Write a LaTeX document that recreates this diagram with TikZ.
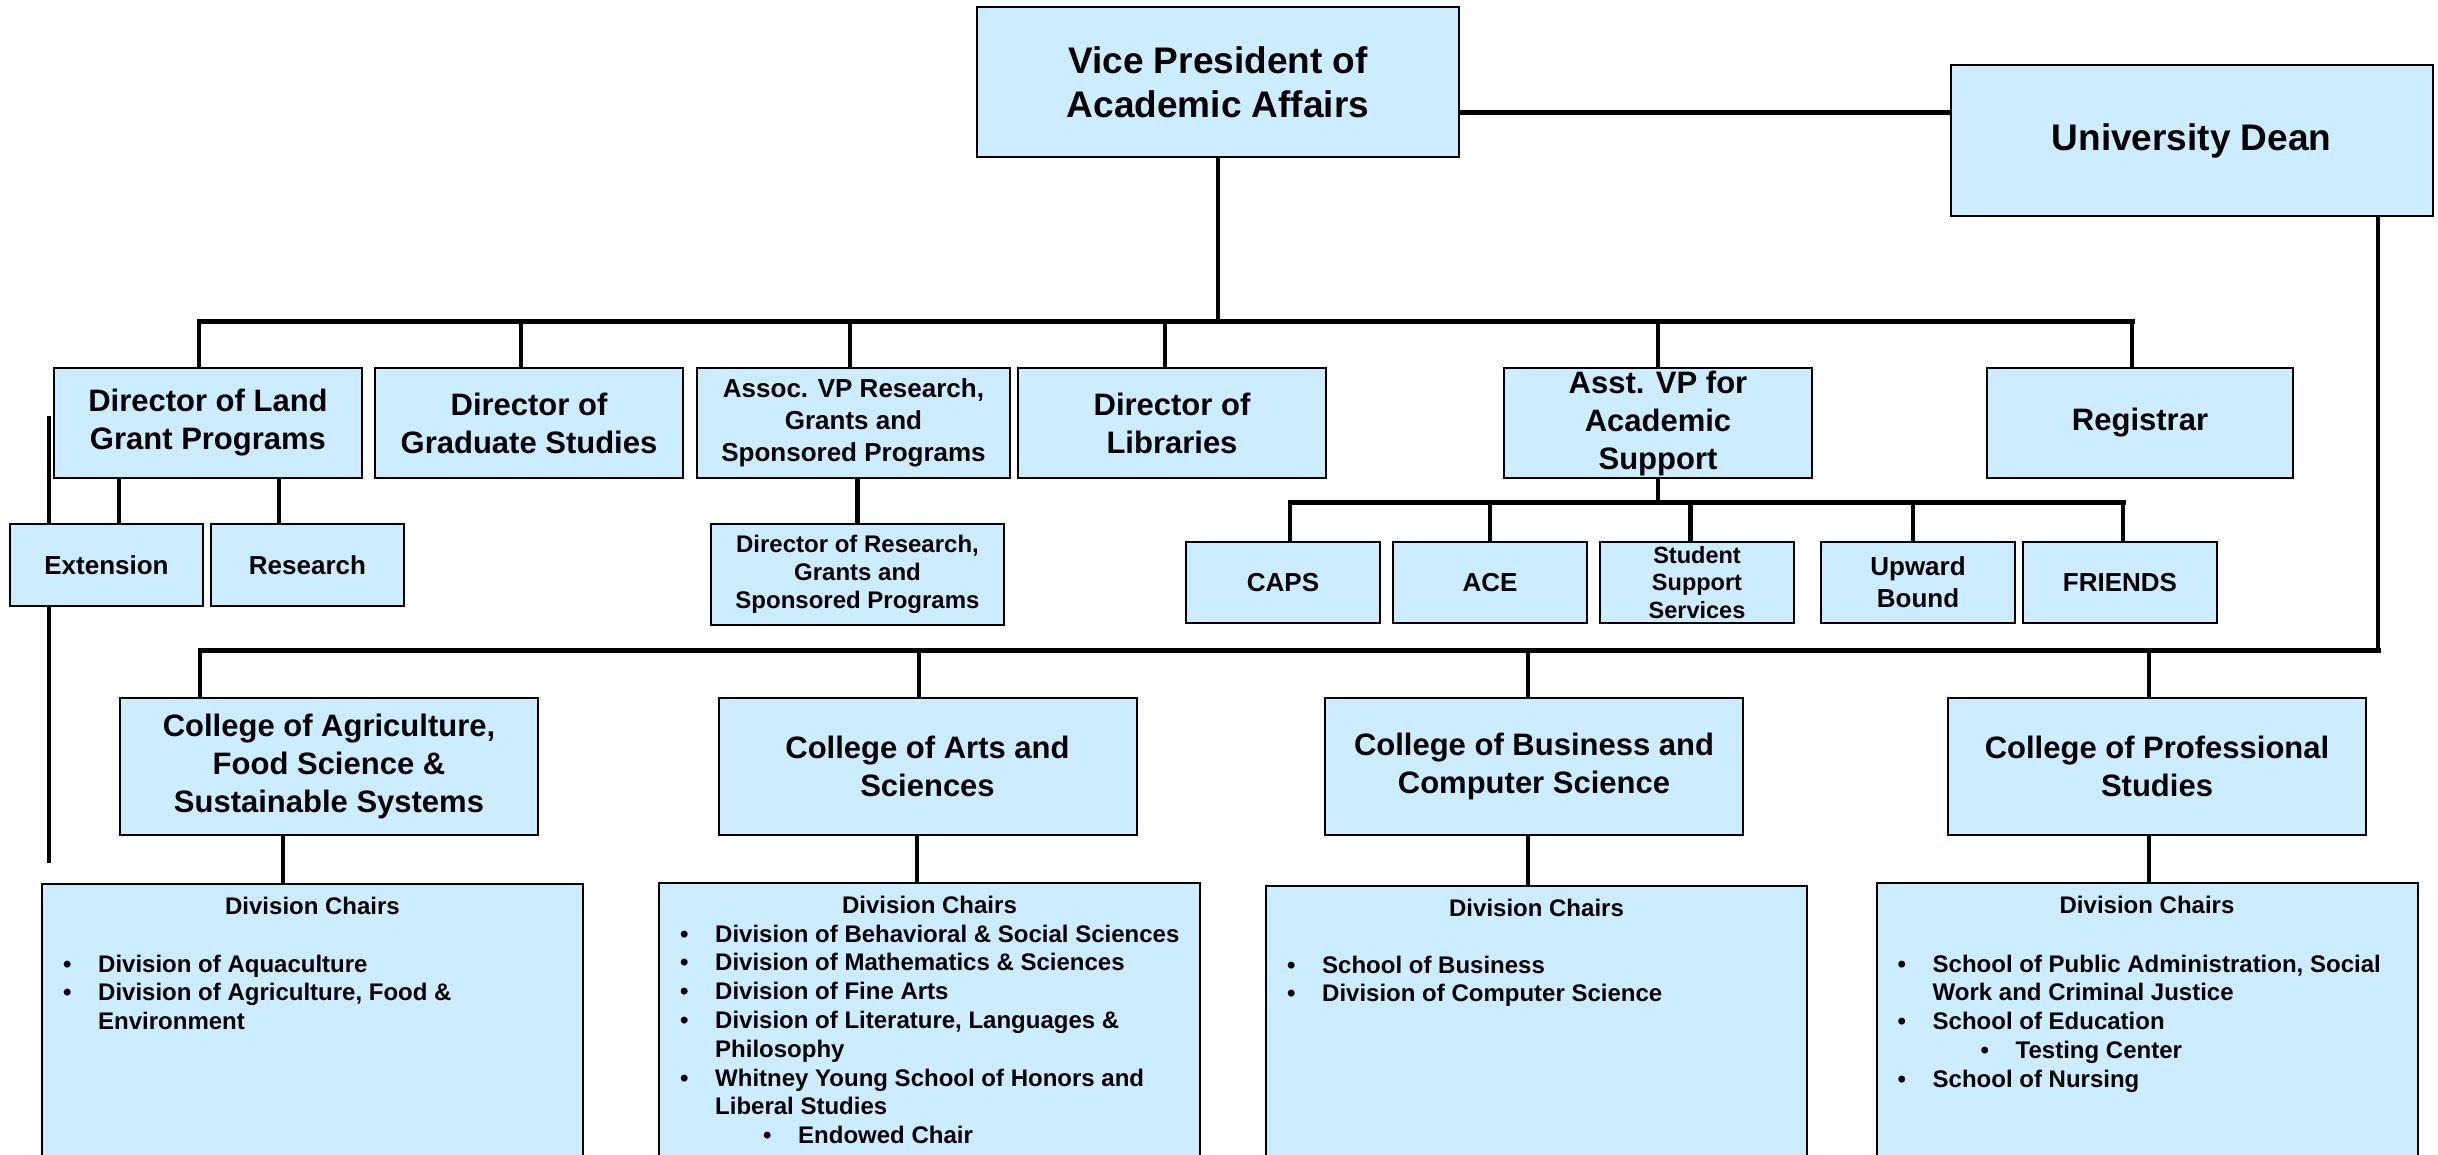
\documentclass[tikz,border=0pt]{standalone}
\usepackage{fontspec}
\setmainfont{Liberation Sans}
\usetikzlibrary{positioning}
\definecolor{boxblue}{HTML}{CCECFF}
\newcommand{\blt}{\makebox[35pt][l]{\textbullet}}
\newcommand{\subblt}{\hspace*{83pt}\blt}
\newcommand{\hang}{\hspace*{35pt}}
\tikzstyle{orgbox} = [draw=black, fill=boxblue, line width=2pt, inner sep=0pt, outer sep=0pt, align=center, font=\bfseries]
\tikzstyle{headbox} = [orgbox, minimum width=482pt, minimum height=150pt, font=\bfseries\fontsize{37}{44}\selectfont]
\tikzstyle{dirbox} = [orgbox, minimum width=308pt, minimum height=110pt, font=\bfseries\fontsize{31}{38}\selectfont]
\tikzstyle{unitbox} = [orgbox, minimum width=194pt, minimum height=82pt, font=\bfseries\fontsize{26}{32}\selectfont]
\tikzstyle{collegebox} = [orgbox, minimum width=418pt, minimum height=137pt, font=\bfseries\fontsize{31}{38}\selectfont]
\tikzstyle{divbox} = [orgbox, minimum width=541pt, minimum height=330pt, anchor=north]
\tikzstyle{divtitle} = [font=\bfseries\fontsize{24}{28.8}\selectfont, anchor=base, inner sep=0pt]
\tikzstyle{divlist} = [font=\bfseries\fontsize{24}{28.8}\selectfont, anchor=base west, inner sep=0pt]
\tikzstyle{link} = [line width=4.5pt]
\tikzstyle{busline} = [line width=5pt, line cap=rect]

\begin{document}
\begin{tikzpicture}[x=1pt, y=-1pt]
	\useasboundingbox (0,0) rectangle (2438,1155);
	\clip (0,0) rectangle (2438,1155);

	\node[headbox] (vpaa) at (1218,82.5) {Vice President of\\Academic Affairs};
	\node[headbox, minimum height=151pt] (dean) at (2191.5,140.5) {University Dean};

	\node[dirbox] (land) at (208,423) {Director of Land\\Grant Programs};
	\node[dirbox, right=13pt of land] (grad) {Director of\\Graduate Studies};
	\node[dirbox, right=14pt of grad, minimum width=313pt, font=\bfseries\fontsize{26}{32}\selectfont] (assoc) {Assoc. VP Research,\\Grants and\\Sponsored Programs};
	\node[dirbox, right=8pt of assoc] (lib) {Director of\\Libraries};
	\node[dirbox] (asstvp) at (1658,423) {Asst. VP for\\Academic\\Support};
	\node[dirbox, minimum width=306pt] (reg) at (2140,423) {Registrar};

	\node[unitbox, minimum width=193pt] (ext) at (106.5,565) {Extension};
	\node[unitbox, minimum width=193pt, right=8pt of ext] (res) {Research};
	\node[orgbox, minimum width=293pt, minimum height=101pt, font=\bfseries\fontsize{24}{28}\selectfont] (dirres) at (857.5,574.5) {Director of Research,\\Grants and\\Sponsored Programs};

	\node[unitbox, minimum height=81pt] (caps) at (1283,582.5) {CAPS};
	\node[unitbox, minimum height=81pt, right=13pt of caps] (ace) {ACE};
	\node[unitbox, minimum height=81pt, right=13pt of ace, font=\bfseries\fontsize{23.5}{27.5}\selectfont] (sss) {Student\\Support\\Services};
	\node[unitbox, minimum height=81pt, right=27pt of sss] (upward) {Upward\\Bound};
	\node[unitbox, minimum height=81pt, right=8pt of upward] (friends) {FRIENDS};

	\node[collegebox] (cag) at (329,766.5) {College of Agriculture,\\Food Science \&\\Sustainable Systems};
	\node[collegebox] (cas) at (927.5,766.5) {College of Arts and\\Sciences};
	\node[collegebox] (cbcs) at (1534,766.5) {College of Business and\\Computer Science};
	\node[collegebox] (cps) at (2157,766.5) {College of Professional\\Studies};

	\node[divbox] (divA) at (312.5,884) {};
	\node[divbox] (divB) at (929.5,883) {};
	\node[divbox] (divC) at (1536.5,886) {};
	\node[divbox] (divD) at (2147,883) {};

	\node[divtitle] (titleA) at ([yshift=-30.5pt]divA.north) {Division Chairs};
	\node[divtitle] (titleB) at ([yshift=-30.5pt]divB.north) {Division Chairs};
	\node[divtitle] (titleC) at ([yshift=-30.5pt]divC.north) {Division Chairs};
	\node[divtitle] (titleD) at ([yshift=-30.5pt]divD.north) {Division Chairs};

	\node[divlist] (listA) at ([xshift=21pt,yshift=-88pt]divA.north west) {\parbox[t]{510pt}{%
		\blt Division of Aquaculture\\
		\blt Division of Agriculture, Food \&\\
		\hang Environment}};
	\node[divlist] (listB) at ([xshift=21pt,yshift=-59pt]divB.north west) {\parbox[t]{510pt}{%
		\blt Division of Behavioral \& Social Sciences\\
		\blt Division of Mathematics \& Sciences\\
		\blt Division of Fine Arts\\
		\blt Division of Literature, Languages \&\\
		\hang Philosophy\\
		\blt Whitney Young School of Honors and\\
		\hang Liberal Studies\\
		\subblt Endowed Chair}};
	\node[divlist] (listC) at ([xshift=21pt,yshift=-87pt]divC.north west) {\parbox[t]{510pt}{%
		\blt School of Business\\
		\blt Division of Computer Science}};
	\node[divlist] (listD) at ([xshift=21pt,yshift=-89pt]divD.north west) {\parbox[t]{510pt}{%
		\blt School of Public Administration, Social\\
		\hang Work and Criminal Justice\\
		\blt School of Education\\
		\subblt Testing Center\\
		\blt School of Nursing}};

	\coordinate (topbus) at (0,322);
	\coordinate (subbus) at (0,502);
	\coordinate (colbus) at (0,650);
	\coordinate (sidetop) at (49,416);
	\coordinate (sidebot) at (49,863);

	\draw[busline, line cap=butt] ([yshift=-30.5pt]vpaa.east) -- ([yshift=-30.5pt]vpaa.east -| dean.west);
	\draw[link, line width=3.5pt] (vpaa.south) -- (vpaa.south |- topbus);
	\draw[busline] ([xshift=-9pt]land.north |- topbus) -- ([xshift=-8pt]reg.north |- topbus);
	\foreach \n/\dx in {land/-9, grad/-8, assoc/-3.5, lib/-7, asstvp/0, reg/-8}
		\draw[link] ([xshift=\dx pt]\n.north) -- ([xshift=\dx pt]\n.north |- topbus);

	\draw[link] ([xshift=12.5pt]ext.north) -- ([xshift=12.5pt]ext.north |- land.south);
	\draw[link] ([xshift=-28.5pt]res.north) -- ([xshift=-28.5pt]res.north |- land.south);
	\draw[link] (sidetop) -- (sidetop |- ext.north);
	\draw[link] (sidetop |- ext.south) -- (sidebot);
	\draw[link] (dirres.north) -- (dirres.north |- assoc.south);

	\draw[link] (asstvp.south) -- (asstvp.south |- subbus);
	\draw[busline] ([xshift=7pt]caps.north |- subbus) -- ([xshift=3pt]friends.north |- subbus);
	\foreach \n/\dx in {caps/7, ace/0, sss/-6.5, upward/-5, friends/3}
		\draw[link] ([xshift=\dx pt]\n.north) -- ([xshift=\dx pt]\n.north |- subbus);

	\draw[link, line width=4pt] ([xshift=186.5pt]dean.south) -- ([xshift=186.5pt]dean.south |- colbus);
	\draw[busline] ([xshift=186.5pt]dean.south |- colbus) -- ([xshift=-129pt]cag.north |- colbus);
	\foreach \n/\dx in {cag/-129, cas/-8.5, cbcs/-6, cps/-8}
		\draw[link] ([xshift=\dx pt]\n.north) -- ([xshift=\dx pt]\n.north |- colbus);
	\foreach \n/\d/\dx in {cag/divA/-46, cas/divB/-10.5, cbcs/divC/-6, cps/divD/-8}
		\draw[link] ([xshift=\dx pt]\n.south) -- ([xshift=\dx pt]\n.south |- \d.north);
\end{tikzpicture}
\end{document}
